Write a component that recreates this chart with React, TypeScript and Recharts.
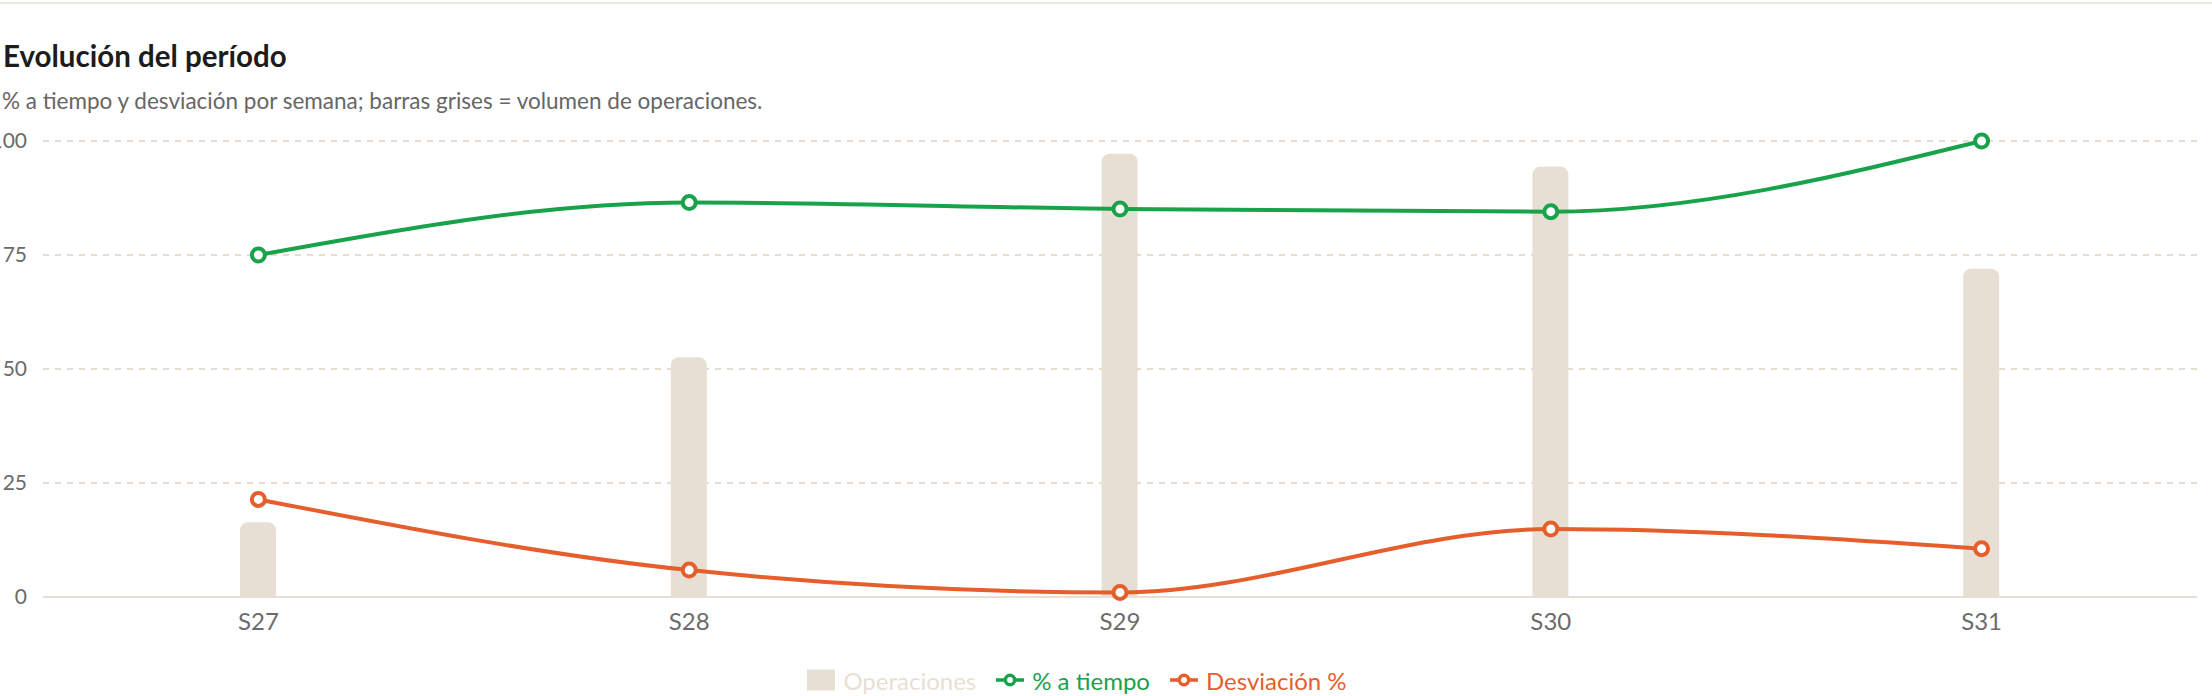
import React from "react";
import {
  Bar,
  CartesianGrid,
  ComposedChart,
  Legend,
  Line,
  XAxis,
  YAxis,
} from "recharts";

const WEEKS = ["S27", "S28", "S29", "S30", "S31"];
const OPERACIONES = [16.4, 52.6, 97.2, 94.4, 72];
const A_TIEMPO = [75, 86.5, 85.1, 84.5, 100];
const DESVIACION = [21.4, 5.9, 1, 14.9, 10.6];
const Y_TICKS = [0, 25, 50, 75, 100];
const SERIES_NAMES = ["Operaciones", "% a tiempo", "Desviación %"];

const BEIGE = "#e8dfd4";
const GREEN = "#18a34a";
const ORANGE = "#e55e2c";
const MUTED = "#6b6b6b";
const FONT = "Lato, 'Open Sans', sans-serif";

const chartData = WEEKS.map((week, i) => ({
  week,
  ops: OPERACIONES[i],
  onTime: A_TIEMPO[i],
  dev: DESVIACION[i],
}));

function LegendIcon({ type, color }: { type?: string; color: string }) {
  if (type === "rect") {
    return (
      <svg width={28} height={28} viewBox="0 0 32 32" style={{ marginRight: 8, display: "block" }}>
        <path d="M0,4h32v24h-32z" fill={color} stroke="none" />
      </svg>
    );
  }
  return (
    <svg width={28} height={28} viewBox="0 0 32 32" style={{ marginRight: 8, display: "block" }}>
      <path
        strokeWidth={4}
        fill="none"
        stroke={color}
        d="M0,16h10.667A5.333,5.333,0,1,1,21.333,16H32M21.333,16A5.333,5.333,0,1,1,10.667,16"
      />
    </svg>
  );
}

function LegendContent(props: any) {
  // keep series order (recharts sorts legend items by name otherwise)
  const payload = [...(props.payload || [])].sort(
    (a: any, b: any) => SERIES_NAMES.indexOf(a.value) - SERIES_NAMES.indexOf(b.value)
  );
  return (
    <div
      style={{
        height: 40,
        paddingLeft: 54,
        display: "flex",
        justifyContent: "center",
        alignItems: "center",
        fontFamily: FONT,
        fontSize: 24,
      }}
    >
      {payload.map((entry: any) => (
        <div
          key={entry.value}
          style={{ display: "flex", alignItems: "center", marginRight: 20, color: entry.color }}
        >
          <LegendIcon type={entry.type} color={entry.color} />
          <span>{entry.value}</span>
        </div>
      ))}
    </div>
  );
}

export default function App() {
  return (
    <div
      style={{
        position: "relative",
        width: 2212,
        height: 696,
        overflow: "hidden",
        background: "#fff",
        fontFamily: FONT,
      }}
    >
      <style>{"body{margin:0}"}</style>
      <div style={{ position: "absolute", left: 0, top: 2, width: 2212, height: 2, background: "#efe7dd" }} />
      <div
        style={{
          position: "absolute",
          left: 3,
          top: 41,
          fontSize: 29.5,
          lineHeight: 1,
          fontWeight: 700,
          color: "#1c1c1c",
          whiteSpace: "nowrap",
        }}
      >
        Evolución del período
      </div>
      <div
        style={{
          position: "absolute",
          left: 2,
          top: 90,
          fontSize: 22.5,
          lineHeight: 1,
          color: "#666",
          whiteSpace: "nowrap",
        }}
      >
        % a tiempo y desviación por semana; barras grises = volumen de operaciones.
      </div>
      <div style={{ position: "absolute", left: -45, top: 121 }}>
        <ComposedChart
          width={2262}
          height={579}
          data={chartData}
          margin={{ top: 20, right: 20, left: -32, bottom: 0 }}
        >
          <CartesianGrid strokeDasharray="6 6" stroke="#e6dccf" strokeWidth={2} vertical={false} />
          <XAxis
            dataKey="week"
            height={63}
            axisLine={{ stroke: BEIGE, strokeWidth: 2 }}
            tickLine={false}
            tickMargin={10}
            tick={{ fill: MUTED, fontSize: 24, fontFamily: FONT }}
          />
          <YAxis
            width={120}
            domain={[0, 100]}
            ticks={Y_TICKS}
            axisLine={false}
            tickLine={false}
            tickMargin={10}
            tick={{ fill: MUTED, fontSize: 21, fontFamily: FONT }}
          />
          <YAxis yAxisId="ops" orientation="right" hide domain={[0, 100]} />
          <Legend verticalAlign="bottom" content={<LegendContent />} />
          <Bar
            yAxisId="ops"
            dataKey="ops"
            name="Operaciones"
            fill={BEIGE}
            barSize={36}
            radius={[8, 8, 0, 0]}
            legendType="rect"
            isAnimationActive={false}
          />
          <Line
            type="monotone"
            dataKey="onTime"
            name="% a tiempo"
            stroke={GREEN}
            strokeWidth={4}
            dot={{ r: 6.5, fill: "#fff", stroke: GREEN, strokeWidth: 4 }}
            activeDot={false}
            isAnimationActive={false}
          />
          <Line
            type="monotone"
            dataKey="dev"
            name="Desviación %"
            stroke={ORANGE}
            strokeWidth={4}
            dot={{ r: 6.5, fill: "#fff", stroke: ORANGE, strokeWidth: 4 }}
            activeDot={false}
            isAnimationActive={false}
          />
        </ComposedChart>
      </div>
    </div>
  );
}
